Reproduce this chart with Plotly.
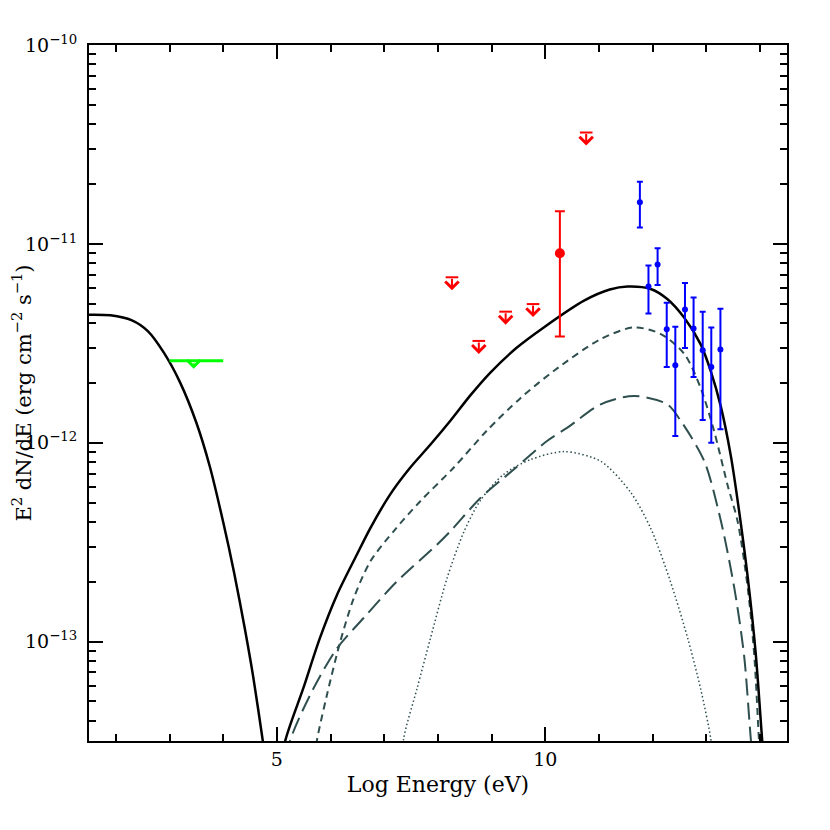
import numpy as np
import plotly.graph_objects as go

# model curves (log energy in eV, E^2 dN/dE in erg cm^-2 s^-1)
sync_x = [1.5, 1.9, 2.3, 2.6, 2.9, 3.2, 3.5, 3.75, 4.0, 4.2, 4.4, 4.56, 4.74, 4.82]
sync_y = [4.40e-12, 4.37e-12, 4.12e-12, 3.63e-12, 2.82e-12, 2.00e-12, 1.26e-12, 7.59e-13,
          3.98e-13, 2.24e-13, 1.17e-13, 6.61e-14, 3.13e-14, 2.24e-14]

total_x = [5.05, 5.15, 5.49, 5.80, 6.12, 6.49, 6.74, 7.11, 7.48, 7.86, 8.23, 8.61, 8.98, 9.47,
           9.97, 10.72, 11.2, 11.53, 11.96, 12.27, 12.58, 12.89, 13.08, 13.27, 13.45, 13.58,
           13.77, 13.92, 14.04, 14.1]
total_y = [2.0e-14, 3.13e-14, 5.81e-14, 1.04e-13, 1.72e-13, 2.74e-13, 3.72e-13, 5.50e-13,
           7.48e-13, 9.79e-13, 1.29e-12, 1.74e-12, 2.26e-12, 3.01e-12, 3.80e-12, 5.18e-12,
           5.89e-12, 6.10e-12, 5.93e-12, 5.28e-12, 4.27e-12, 3.13e-12, 2.29e-12, 1.51e-12,
           8.71e-13, 5.13e-13, 2.09e-13, 8.55e-14, 3.13e-14, 2.0e-14]

ic1_x = [5.65, 5.74, 5.93, 6.18, 6.43, 6.74, 7.20, 7.67, 8.29, 8.91, 9.54, 10.16, 11.03, 11.65,
         12.15, 12.59, 12.89, 13.14, 13.4, 13.58, 13.77, 13.89, 13.98, 14.03]
ic1_y = [2.0e-14, 3.13e-14, 5.37e-14, 1.0e-13, 1.65e-13, 2.53e-13, 3.66e-13, 5.08e-13,
         7.48e-13, 1.15e-12, 1.68e-12, 2.30e-12, 3.32e-12, 3.80e-12, 3.52e-12, 2.79e-12,
         1.89e-12, 1.15e-12, 6.03e-13, 4.03e-13, 1.85e-13, 8.55e-14, 3.13e-14, 2.0e-14]

ic2_x = [5.15, 5.24, 5.68, 6.12, 6.61, 7.23, 7.98, 8.26, 8.79, 9.41, 10.03, 10.41, 11.03,
         11.65, 12.27, 12.52, 12.96, 13.27, 13.52, 13.70, 13.83, 13.9]
ic2_y = [2.0e-14, 3.13e-14, 5.81e-14, 9.25e-14, 1.31e-13, 2.00e-13, 3.07e-13, 3.66e-13,
         5.27e-13, 7.33e-13, 1.02e-12, 1.19e-12, 1.56e-12, 1.72e-12, 1.56e-12, 1.29e-12,
         8.07e-13, 4.03e-13, 1.85e-13, 8.55e-14, 3.13e-14, 2.0e-14]

ic3_x = [7.3, 7.36, 7.61, 7.86, 8.17, 8.48, 8.79, 9.22, 9.72, 10.35, 11.03, 11.59, 11.96,
         12.33, 12.65, 12.89, 13.08, 13.12]
ic3_y = [2.0e-14, 3.25e-14, 5.81e-14, 1.04e-13, 2.09e-13, 3.55e-13, 5.13e-13, 6.92e-13,
         8.22e-13, 9.02e-13, 8.07e-13, 5.62e-13, 3.72e-13, 2.00e-13, 1.04e-13, 5.81e-14,
         3.25e-14, 2.51e-14]

# observations
green_ul_x = [3.0, 4.0]
green_ul_y = 2.58e-12
green_arrow_x = 3.45

red_ul_x = [8.26, 8.76, 9.26, 9.77, 10.76]
red_ul_y = [6.79e-12, 3.25e-12, 4.56e-12, 4.98e-12, 3.63e-11]

red_x = [10.27]
red_y = [8.97e-12]
red_hi = [1.46e-11]
red_lo = [3.42e-12]

blue_x = [11.76, 11.92, 12.09, 12.26, 12.42, 12.6, 12.76, 12.93, 13.09, 13.26]
blue_y = [1.62e-11, 6.10e-12, 7.87e-12, 3.72e-12, 2.45e-12, 4.68e-12, 3.75e-12, 2.92e-12,
          2.40e-12, 2.94e-12]
blue_hi = [2.05e-11, 7.78e-12, 9.51e-12, 5.06e-12, 3.83e-12, 6.35e-12, 5.38e-12, 4.56e-12,
           3.80e-12, 4.72e-12]
blue_lo = [1.21e-11, 4.47e-12, 6.21e-12, 2.40e-12, 1.08e-12, 2.99e-12, 2.14e-12, 1.30e-12,
           1.00e-12, 1.17e-12]

FONT = "DejaVu Serif"
SLATE = "#2f4f4f"

fig = go.Figure()

# model curves
fig.add_trace(go.Scatter(x=sync_x, y=sync_y, mode="lines",
                         line=dict(color="black", width=2.5, shape="spline", smoothing=0.8)))
fig.add_trace(go.Scatter(x=ic1_x, y=ic1_y, mode="lines",
                         line=dict(color=SLATE, width=2, dash="7px,5px", shape="spline", smoothing=0.8)))
fig.add_trace(go.Scatter(x=ic2_x, y=ic2_y, mode="lines",
                         line=dict(color=SLATE, width=2, dash="17px,7px", shape="spline", smoothing=0.8)))
fig.add_trace(go.Scatter(x=ic3_x, y=ic3_y, mode="lines",
                         line=dict(color=SLATE, width=1.5, dash="1.5px,2.5px", shape="spline", smoothing=0.8)))
fig.add_trace(go.Scatter(x=total_x, y=total_y, mode="lines",
                         line=dict(color="black", width=2.5, shape="spline", smoothing=0.8)))

# green upper limit
fig.add_trace(go.Scatter(x=green_ul_x, y=[green_ul_y] * 2, mode="lines", line=dict(color="#00ff00", width=3)))
fig.add_annotation(x=green_arrow_x, y=np.log10(green_ul_y), ax=0, ay=-7, yshift=-8, text="",
                   showarrow=True, arrowhead=4, arrowsize=1.3, arrowwidth=2, arrowcolor="#00ff00")

# red upper limits
fig.add_trace(go.Scatter(x=red_ul_x, y=red_ul_y, mode="markers",
                         marker=dict(symbol="line-ew", size=9, line=dict(color="red", width=2))))
for xv, yv in zip(red_ul_x, red_ul_y):
    fig.add_annotation(x=xv, y=np.log10(yv), ax=0, ay=-13, yshift=-13, text="",
                       showarrow=True, arrowhead=4, arrowsize=1.3, arrowwidth=2, arrowcolor="red")

# red detection
fig.add_trace(go.Scatter(
    x=red_x, y=red_y, mode="markers",
    marker=dict(color="red", size=10),
    error_y=dict(type="data", symmetric=False,
                 array=[h - v for h, v in zip(red_hi, red_y)],
                 arrayminus=[v - l for v, l in zip(red_y, red_lo)],
                 color="red", thickness=2, width=5),
))

# blue points
fig.add_trace(go.Scatter(
    x=blue_x, y=blue_y, mode="markers",
    marker=dict(color="blue", size=6),
    error_y=dict(type="data", symmetric=False,
                 array=[h - v for h, v in zip(blue_hi, blue_y)],
                 arrayminus=[v - l for v, l in zip(blue_y, blue_lo)],
                 color="blue", thickness=2, width=3),
))

decades = [-13, -12, -11, -10]
y_major = [10.0 ** d for d in decades]
y_labels = ["10<sup>\u221213</sup>", "10<sup>\u221212</sup>", "10<sup>\u221211</sup>", "10<sup>\u221210</sup>"]
y_minor = [m * 10.0 ** d for d in [-14, -13, -12, -11] for m in range(2, 10)]

# page body has an 8px margin, so the figure is drawn 8px in from the corner
fig.update_layout(
    width=814,
    height=814,
    margin=dict(l=81, r=35, t=37, b=81),
    paper_bgcolor="white",
    plot_bgcolor="white",
    showlegend=False,
    font=dict(family=FONT, color="black", size=20),
)

fig.update_xaxes(
    range=[1.5, 14.5],
    automargin=False,
    showgrid=False, zeroline=False,
    showline=True, linecolor="black", linewidth=2, mirror="allticks",
    ticks="inside", ticklen=14, tickwidth=2, tickcolor="black",
    tickvals=[5, 10], ticktext=["5", "10"],
    tickfont=dict(family=FONT, size=19),
    minor=dict(tickvals=[2, 3, 4, 6, 7, 8, 9, 11, 12, 13, 14], ticks="inside",
               ticklen=7, tickwidth=2, tickcolor="black"),
    title=dict(text="Log Energy (eV)", font=dict(family=FONT, size=22), standoff=8),
)

fig.update_yaxes(
    type="log",
    range=[-13.5, -10],
    automargin=False,
    showgrid=False, zeroline=False,
    showline=True, linecolor="black", linewidth=2, mirror="allticks",
    ticks="inside", ticklen=14, tickwidth=2, tickcolor="black",
    tickvals=y_major, ticktext=y_labels,
    tickfont=dict(family=FONT, size=19),
    ticklabelstandoff=6,
    minor=dict(tickvals=y_minor, ticks="inside", ticklen=7, tickwidth=2, tickcolor="black"),
    title=dict(text="E<sup>2</sup> dN/dE (erg cm<sup>\u22122</sup> s<sup>\u22121</sup>)",
               font=dict(family=FONT, size=21), standoff=2),
)

fig.write_html("out.html")
